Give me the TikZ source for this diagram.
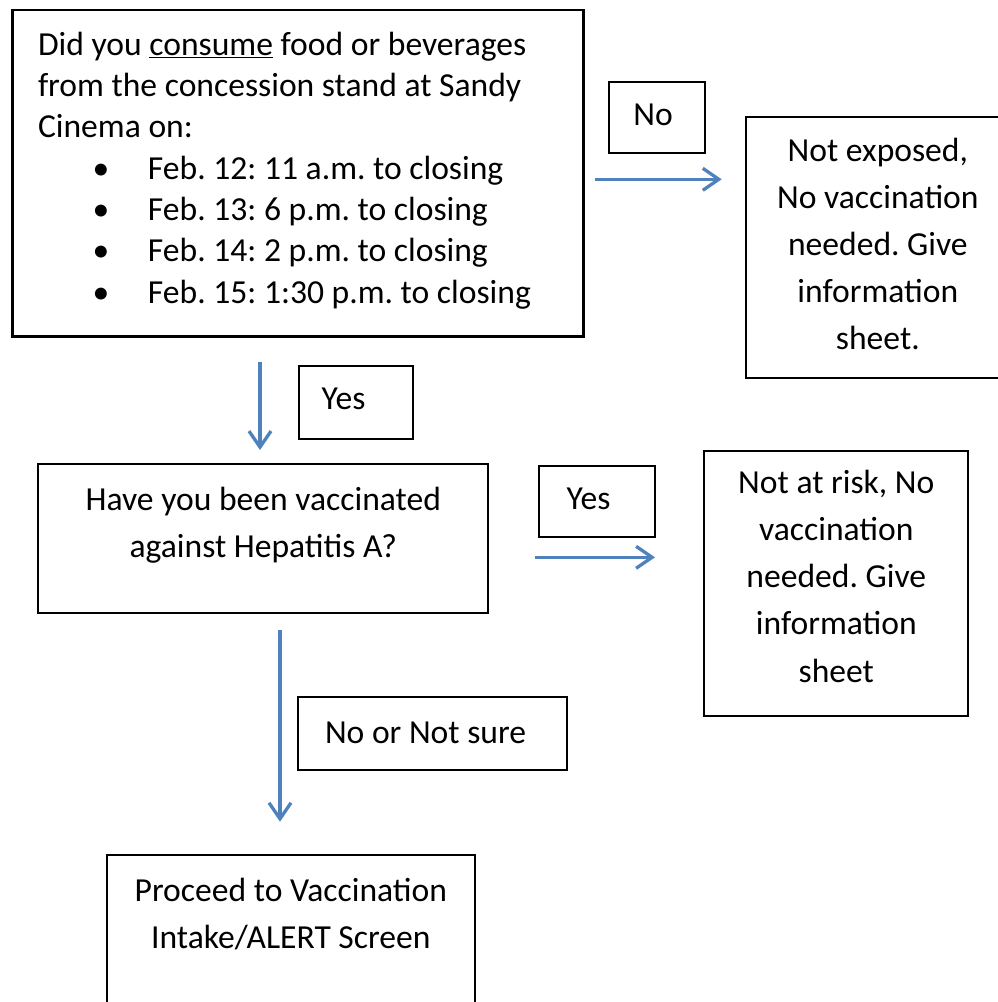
\documentclass[tikz,border=0pt]{standalone}
\usepackage{fontspec}
\setmainfont{Carlito}
\usetikzlibrary{arrows.meta}
\definecolor{flowblue}{HTML}{4F81BD}
\newcommand\myboxfont{\fontsize{33.6}{47.2}\selectfont\frenchspacing\hyphenpenalty 10000\relax}
\newcommand\myqfont{\fontsize{33.6}{41.3}\selectfont\frenchspacing\hyphenpenalty 10000\relax}
\newcommand\mybullet{\hspace*{63pt}\makebox[0pt]{\textbullet}\hspace*{47pt}}
\begin{document}
\begin{tikzpicture}[x=1pt,y=-1pt,
  box/.style={draw=black, line width=2.2pt, rectangle, inner ysep=0pt, outer sep=0pt,
    anchor=north west, font=\myboxfont},
  flow/.style={draw=flowblue, line width=3.3pt, -{Straight Barb[length=16pt,width=22pt]}},
]
\useasboundingbox (0,0) rectangle (997,1002);

% main question
\node[box, text width=520pt, inner xsep=25.5pt, text height=45.3pt, text depth=281.2pt,
  align=flush left, font=\myqfont] (q1) at (12.5,10)
  {Did you \underline{consume} food or beverages\\
   from the concession stand at Sandy\\
   Cinema on:\\
   \mybullet Feb. 12: 11 a.m. to closing\\
   \mybullet Feb. 13: 6 p.m. to closing\\
   \mybullet Feb. 14: 2 p.m. to closing\\
   \mybullet Feb. 15: 1:30 p.m. to closing};

% No label
\node[box, text width=47.7pt, inner xsep=24pt, text height=44pt, text depth=27pt, align=flush left]
  (lno) at (609.3,81.7) {No};

% Not exposed
\node[box, text width=264.3pt, inner xsep=0pt, text height=43.7pt, text depth=216.7pt, align=flush center]
  (r1) at (745.7,117.3) {Not exposed,\\No vaccination\\needed. Give\\information\\sheet.};

% Yes label 1
\node[box, text width=68.9pt, inner xsep=22.7pt, text height=43.3pt, text depth=30pt, align=flush left]
  (lyes1) at (299,366) {Yes};

% second question
\node[box, text width=450pt, inner xsep=0pt, text height=46pt, text depth=103.3pt, align=flush center]
  (q2) at (38.3,464) {Have you been vaccinated\\against Hepatitis A?};

% Yes label 2
\node[box, text width=60.9pt, inner xsep=27.4pt, text height=43pt, text depth=27.7pt, align=flush left]
  (lyes2) at (539.3,466) {Yes};

% Not at risk
\node[box, text width=264pt, inner xsep=0pt, text height=42.6pt, text depth=222.7pt, align=flush center]
  (r2) at (704.3,450.7) {Not at risk, No\\vaccination\\needed. Give\\information\\sheet};

% No or Not sure label
\node[box, text width=215pt, inner xsep=26.7pt, text height=46.6pt, text depth=26.7pt, align=flush left]
  (lns) at (298.3,696.7) {No or Not sure};

% final box
\node[box, text width=368.3pt, inner xsep=0pt, text height=46pt, text depth=140pt, align=flush center]
  (r3) at (106.7,855) {Proceed to Vaccination\\Intake/ALERT Screen};

% arrows
\coordinate (a1s) at (595,179.3);   \coordinate (a1e) at (721.7,179.3);
\coordinate (a2s) at (260,361.7);   \coordinate (a2e) at (260,450);
\coordinate (a3s) at (535,557.3);   \coordinate (a3e) at (655,557.3);
\coordinate (a4s) at (280,630);     \coordinate (a4e) at (280,821.7);
\draw[flow] (a1s) -- (a1e);
\draw[flow] (a2s) -- (a2e);
\draw[flow] (a3s) -- (a3e);
\draw[flow] (a4s) -- (a4e);
\end{tikzpicture}
\end{document}
